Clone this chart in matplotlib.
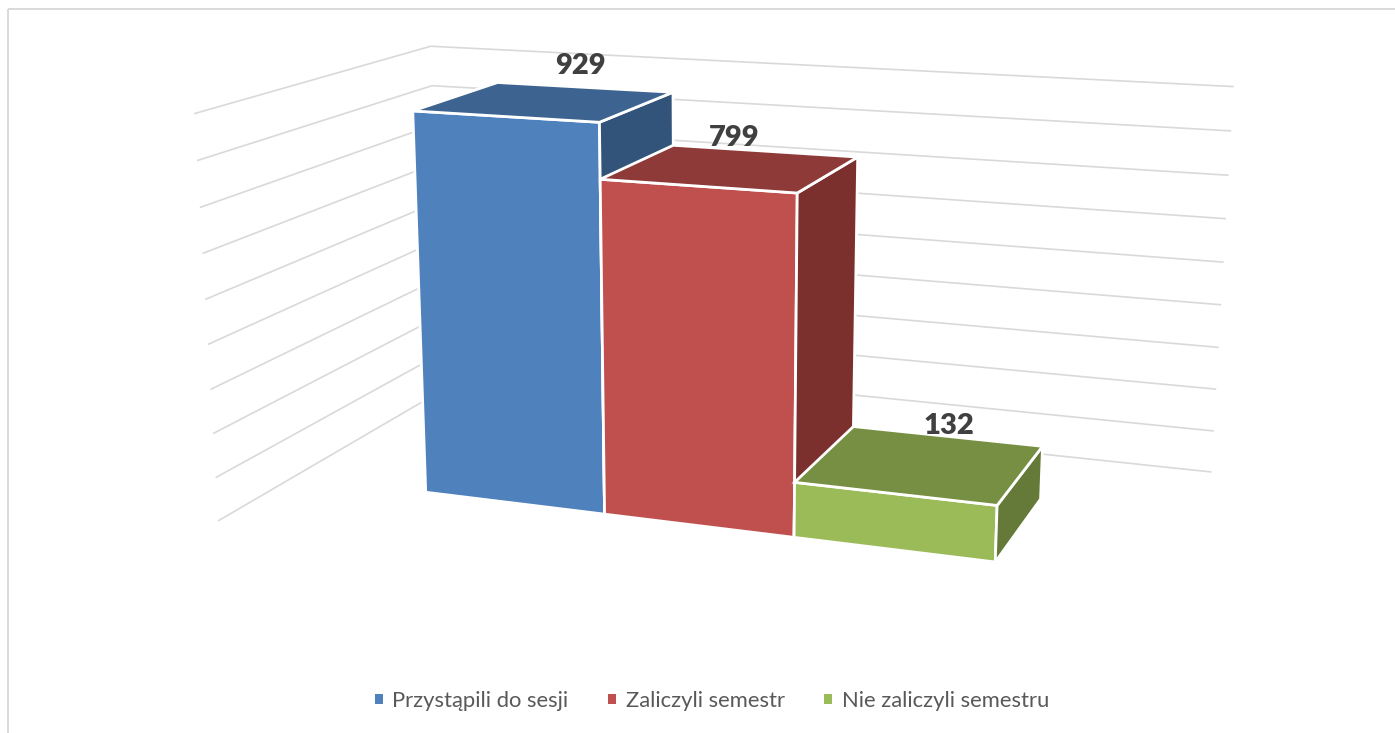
import matplotlib
matplotlib.use('Agg')
import matplotlib.pyplot as plt
import numpy as np
from matplotlib.patches import Polygon, Patch, Rectangle

categories = ['Przystąpili do sesji', 'Zaliczyli semestr', 'Nie zaliczyli semestru']
values = [929, 799, 132]

# wall lines, same unit as the values
grid_levels = [0, 106, 213, 319, 426, 532, 639, 745, 852, 958]

front_colors = ['#4f81bd', '#c0504d', '#9bbb59']
top_colors = ['#3d6390', '#8e3a38', '#778f43']
side_colors = ['#32537a', '#7b302e', '#657a39']

# floor extent of the walls, bars fill x 0..3 and y 0..1
x_left, x_right = -0.77, 3.75
y_front, y_back = -0.77, 1.76

# camera fit: (x, y, value) -> pixel
calib = [
    ((0, 0, 0), (426, 492)), ((1, 0, 0), (603, 514)), ((2, 0, 0), (794, 537)), ((3, 0, 0), (996, 560)),
    ((0, 0, 929), (413, 112)), ((1, 0, 929), (599, 122)), ((1, 0, 799), (601, 179)), ((2, 0, 799), (797, 192)),
    ((2, 0, 132), (795, 485)), ((3, 0, 132), (997, 506)), ((0, 1, 929), (498, 82)), ((1, 1, 929), (673, 93)),
    ((1, 1, 799), (673, 143)), ((2, 1, 799), (857, 158)), ((2, 1, 132), (854, 428)), ((3, 1, 132), (1042, 450)),
    ((3, 1, 0), (1041, 495)),
]
A, b = [], []
for (x, y, z), (u, v) in calib:
    A.append([x, y, z, 1, 0, 0, 0, 0, -u * x, -u * y, -u * z])
    b.append(u)
    A.append([0, 0, 0, 0, x, y, z, 1, -v * x, -v * y, -v * z])
    b.append(v)
p = np.linalg.lstsq(np.array(A, float), np.array(b, float), rcond=None)[0]
P = np.append(p, 1).reshape(3, 4)


def proj(x, y, z):
    h = P @ np.array([x, y, z, 1.0])
    return h[:2] / h[2]


fig = plt.figure(figsize=(13.95, 7.33), dpi=100)
ax = fig.add_axes([0, 0, 1, 1])
ax.set_xlim(0, 1395)
ax.set_ylim(733, 0)
ax.axis('off')

# chart frame, runs off the right and bottom of the crop
ax.add_patch(Rectangle((8, 9), 1500, 800, fill=False, edgecolor='#d9d9d9', linewidth=1.4))

# Walls
for z in grid_levels:
    pts = np.array([proj(x_left, y_front, z), proj(x_left, y_back, z), proj(x_right, y_back, z)])
    ax.plot(pts[:, 0], pts[:, 1], color='#d9d9d9', linewidth=1.2, zorder=1, solid_capstyle='butt')

# Bars, left to right so the later ones cover the earlier ones
for i, val in enumerate(values):
    faces = [
        ([(i, 0, 0), (i + 1, 0, 0), (i + 1, 0, val), (i, 0, val)], front_colors[i]),
        ([(i + 1, 0, 0), (i + 1, 1, 0), (i + 1, 1, val), (i + 1, 0, val)], side_colors[i]),
        ([(i, 0, val), (i + 1, 0, val), (i + 1, 1, val), (i, 1, val)], top_colors[i]),
    ]
    for corners, col in faces:
        ax.add_patch(Polygon([proj(*c) for c in corners], closed=True, facecolor=col,
                             edgecolor='white', linewidth=2.0, joinstyle='miter', zorder=2 + i))

# Data labels
label_offsets = [(35, -35), (2, -30), (27, -38)]
for i, val in enumerate(values):
    cx, cy = proj(i + 0.5, 0.5, val)
    ax.text(cx + label_offsets[i][0], cy + label_offsets[i][1], str(val), ha='center', va='center',
            fontsize=21, fontweight='heavy', family='Lato', color='#404040', zorder=10)

# Legend
handles = [Patch(facecolor=c, edgecolor='none', label=n) for c, n in zip(front_colors, categories)]
fig.legend(handles=handles, loc='center', bbox_to_anchor=(712 / 1395, 1 - 701 / 733), ncol=3, frameon=False,
           prop={'family': 'Lato', 'size': 15.8}, labelcolor='#595959', handlelength=0.36, handleheight=0.36,
           handletextpad=0.45, columnspacing=1.8)

plt.savefig('out.png', dpi=100)
